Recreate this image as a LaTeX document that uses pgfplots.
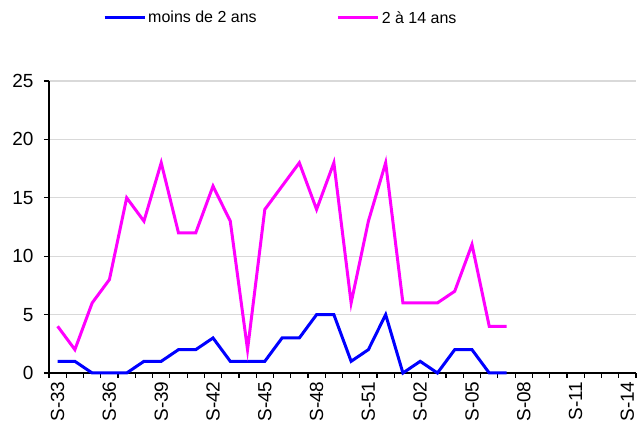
\documentclass[border=0pt]{standalone}
\usepackage{fontspec}
\setmainfont{Liberation Sans}
\usepackage{pgfplots}
\pgfplotsset{compat=1.18}
\definecolor{gridgray}{HTML}{D9D9D9}
\definecolor{mag}{HTML}{FF00FF}
\definecolor{blu}{HTML}{0000FF}
\begin{document}
\begin{tikzpicture}
\begin{axis}[
  scale only axis,
  width=587pt, height=292pt,
  xmin=-0.5, xmax=33.5,
  ymin=0, ymax=25,
  axis lines=left,
  axis line style={black, line width=1.3pt, -},
  xtick={0,3,...,33},
  xticklabels={S-33,S-36,S-39,S-42,S-45,S-48,S-51,S-02,S-05,S-08,S-11,S-14},
  minor xtick={-0.5,0.5,...,33.5},
  major tick length=0pt,
  minor tick length=5pt,
  ytick={0,5,...,25},
  tick align=outside,
  tick style={black, line width=1.2pt},
  ymajorgrids,
  major grid style={gridgray, line width=1.2pt},
  xtick style={draw=none},
  minor x tick style={draw=black, line width=1.2pt},
  ytick style={/pgfplots/major tick length=5pt},
  /pgf/number format/assume math mode=true,
  ticklabel style={font=\fontsize{19}{21}\selectfont},
  xticklabel style={rotate=90, anchor=east, xshift=-5pt},
  yticklabel style={xshift=-12pt},
  legend columns=2,
  legend style={at={(axis description cs:0.395,1.216)}, anchor=center, draw=none,
    font=\fontsize{16}{18}\selectfont, /tikz/every even column/.append style={column sep=78pt}},
  legend image code/.code={\draw[#1, line width=3pt] (0pt,0pt) -- (40pt,0pt);},
  clip=false,
]
\addplot[blu, line width=3pt] coordinates {
(0,1)(1,1)(2,0)(3,0)(4,0)(5,1)(6,1)(7,2)(8,2)(9,3)(10,1)(11,1)(12,1)(13,3)(14,3)(15,5)(16,5)(17,1)(18,2)(19,5)(20,0)(21,1)(22,0)(23,2)(24,2)(25,0)(26,0)
};
\addlegendentry{moins de 2 ans}
\addplot[mag, line width=3pt] coordinates {
(0,4)(1,2)(2,6)(3,8)(4,15)(5,13)(6,18)(7,12)(8,12)(9,16)(10,13)(11,2)(12,14)(13,16)(14,18)(15,14)(16,18)(17,6)(18,13)(19,18)(20,6)(21,6)(22,6)(23,7)(24,11)(25,4)(26,4)
};
\addlegendentry{2 à 14 ans}
\end{axis}
\pgfresetboundingbox
\path ([xshift=-49pt,yshift=-55pt]current axis.south west) rectangle ++(638pt,428pt);
\end{tikzpicture}
\end{document}
